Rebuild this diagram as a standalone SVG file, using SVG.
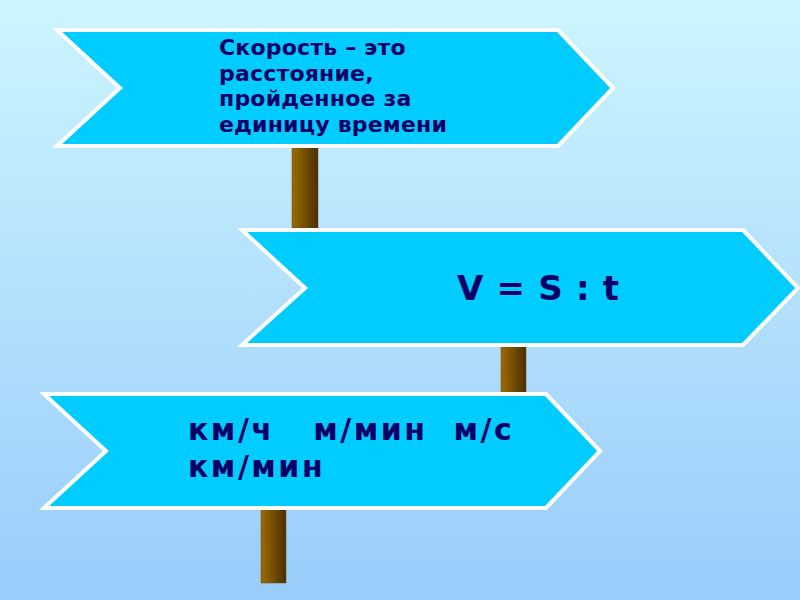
<svg xmlns="http://www.w3.org/2000/svg" width="800" height="600" viewBox="0 0 800 600">
<defs>
<linearGradient id="bg" x1="0" y1="0" x2="0" y2="1">
<stop offset="0" stop-color="#ccf5ff"/>
<stop offset="1" stop-color="#99ccfa"/>
</linearGradient>
<linearGradient id="wood" x1="0" y1="0" x2="1" y2="0">
<stop offset="0" stop-color="#9c6a00"/>
<stop offset="1" stop-color="#4a3000"/>
</linearGradient>
<style>
.sign{fill:#00ccff;stroke:#ffffff;stroke-width:4;stroke-linejoin:miter}
.post{fill:url(#wood);stroke:#6b4a10;stroke-width:0.5}
.t{font-family:"DejaVu Sans",Verdana,sans-serif;font-weight:bold;fill:#000066}
</style>
</defs>
<rect width="800" height="600" fill="url(#bg)"/>
<g id="connectors">
<rect id="post1" class="post" x="292" y="147" width="26" height="81"/>
<rect id="post2" class="post" x="501" y="346" width="25" height="47"/>
<rect id="post3" class="post" x="261" y="509" width="25" height="74"/>
</g>
<g id="sign1">
<polygon class="sign" points="57,30 558,30 613,88 558,146 57,146 120,88"/>
<text class="t" font-size="22" letter-spacing="0.2">
<tspan x="219" y="55">Скорость – это</tspan>
<tspan x="219" y="81">расстояние,</tspan>
<tspan x="219" y="106">пройденное за</tspan>
<tspan x="219" y="132">единицу времени</tspan>
</text>
</g>
<g id="sign2">
<polygon class="sign" points="242,230 743,230 798,288 743,345 242,345 305,288"/>
<text class="t" font-size="34" x="457" y="300" letter-spacing="0.7">V = S : t</text>
</g>
<g id="sign3">
<polygon class="sign" points="44,394 546,394 600,451 546,508 44,508 106,451"/>
<text class="t" font-size="30" letter-spacing="2.5" xml:space="preserve"><tspan x="188" y="440">км/ч   м/мин  м/с</tspan><tspan x="188" y="477">км/мин</tspan></text>
</g>
</svg>
